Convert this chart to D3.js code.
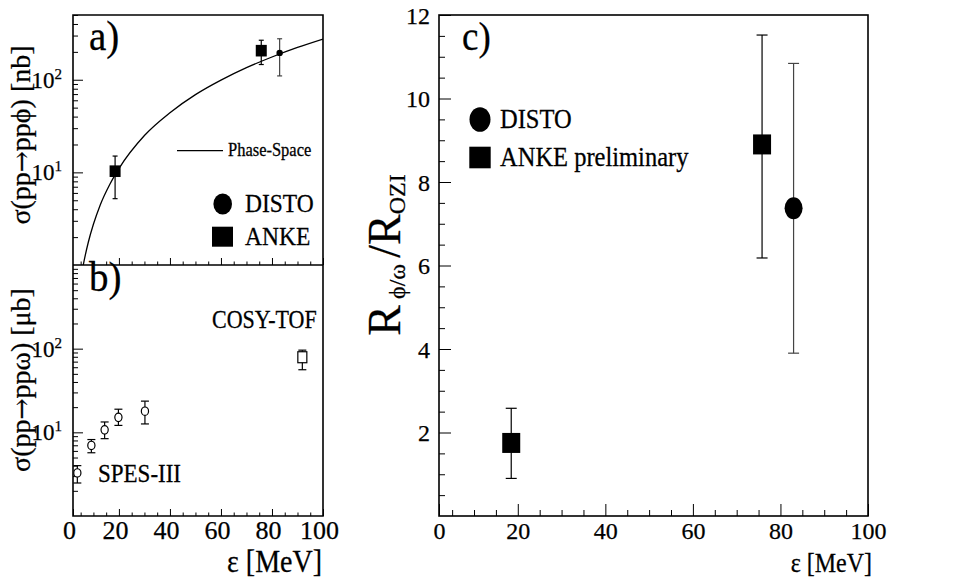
<!DOCTYPE html>
<html>
<head>
<meta charset="utf-8">
<script src="https://cdn.jsdelivr.net/npm/d3@7"></script>
<style>
  body { margin: 0; background: #fff; }
  svg { display: block; }
  svg text { stroke: #000; stroke-width: 0.25px; }
</style>
</head>
<body>
<svg id="chart" width="970" height="580"></svg>
<script>
// ---- panel a: sigma(pp -> pp phi) [nb]
const phiAnkeEps = [18.5, 75.8];
const phiAnkeSigma = [10.3, 206];
const phiAnkeHi = [15.0, 267];
const phiAnkeLo = [5.2, 146];
const phiDistoEps = [83];
const phiDistoSigma = [195];
const phiDistoHi = [277];
const phiDistoLo = [110];
// phase-space curve
const psEps = [5.5, 6, 8, 10, 12.6, 16.5, 20, 30, 40, 50, 60, 70, 80, 90, 100];
const psSigma = [0.83, 0.99, 1.76, 2.75, 4.4, 7.5, 11, 25, 44, 69, 99, 135, 176, 223, 275];

// ---- panel b: sigma(pp -> pp omega) [mub]
const spesEps = [3.7, 9.2, 14.4, 19.8, 30.2];
const spesSigma = [3.27, 6.97, 10.7, 15.1, 17.9];
const spesHi = [4.0, 8.2, 13.3, 18.9, 23.6];
const spesLo = [2.48, 5.7, 8.4, 12.1, 12.6];
const cosyEps = [91.9];
const cosySigma = [79];
const cosyHi = [96];
const cosyLo = [56];

// ---- panel c: R_phi/omega / R_OZI
const rAnkeEps = [18.5, 75.8];
const rAnke = [1.75, 8.9];
const rAnkeHi = [2.58, 11.52];
const rAnkeLo = [0.9, 6.18];
const rDistoEps = [83];
const rDisto = [7.37];
const rDistoHi = [10.84];
const rDistoLo = [3.9];

// ticks
const epsMin = 2;   // axis starts a bit right of 0, label "0" sits at the frame
const xMajor = [epsMin, 20, 40, 60, 80, 100];
const xMinor = d3.range(5, 100, 5).filter(v => v % 20 !== 0);
const logMajor = [10, 100];
const cMajor = [2, 4, 6, 8, 10, 12];
const cMinor = d3.range(0.5, 12, 0.5).filter(v => v % 2 !== 0);

const FONT = "'Liberation Serif'";
const svg = d3.select("#chart");
const fmtX = d => d === epsMin ? "0" : d;
const SY = 1.1; // text in the picture is a little taller than wide

function label(x, y, str, size, anchor) {
  return svg.append("text")
    .attr("transform", `translate(${x},${y}) scale(1,${SY})`)
    .style("font-family", FONT)
    .attr("font-size", size)
    .attr("text-anchor", anchor || "start")
    .text(str);
}

function logMinor(lo, hi) {
  const out = [];
  for (let dec = 1; dec < hi; dec *= 10)
    for (let k = 2; k <= 9; k++) if (k * dec >= lo && k * dec <= hi) out.push(k * dec);
  return out;
}

function errBars(g, xs, ys, his, los, x, y, cap, color) {
  xs.forEach((e, i) => {
    const cx = x(e);
    g.append("line").attr("x1", cx).attr("x2", cx).attr("y1", y(his[i])).attr("y2", y(los[i]))
      .attr("stroke", color).attr("stroke-width", 1.2);
    [his[i], los[i]].forEach(v => {
      g.append("line").attr("x1", cx - cap).attr("x2", cx + cap).attr("y1", y(v)).attr("y2", y(v))
        .attr("stroke", color).attr("stroke-width", 1.2);
    });
  });
}

function styleAxis(g) {
  g.select(".domain").remove();
  g.selectAll("line").attr("stroke", "#000").attr("stroke-width", 1);
  g.selectAll("text").style("font-family", FONT).attr("fill", "#000");
}

// ================= panels a and b =================
const xAB = d3.scaleLinear().domain([epsMin, 100]).range([73, 323]);
const yA = d3.scaleLog().domain([1, 500]).range([265, 15]);
const yB = d3.scaleLog().domain([1, 1000]).range([516, 265]);

// axes of a
svg.append("g").attr("transform", "translate(0,265)")
  .call(d3.axisBottom(xAB).tickValues(xMajor.slice(1)).tickSize(-7).tickFormat("")).call(styleAxis);
svg.append("g").attr("transform", "translate(0,265)")
  .call(d3.axisBottom(xAB).tickValues(xMinor).tickSize(-3.5).tickFormat("")).call(styleAxis);
svg.append("g").attr("transform", "translate(73,0)")
  .call(d3.axisLeft(yA).tickValues(logMajor).tickSize(-10).tickFormat("")).call(styleAxis);
svg.append("g").attr("transform", "translate(73,0)")
  .call(d3.axisLeft(yA).tickValues(logMinor(1, 500)).tickSize(-5).tickFormat("")).call(styleAxis);

// axes of b
const bx = svg.append("g").attr("transform", "translate(0,516)")
  .call(d3.axisBottom(xAB).tickValues(xMajor).tickSize(-7).tickPadding(4).tickFormat(fmtX)).call(styleAxis);
bx.selectAll("text").attr("font-size", 26).attr("dx", -4).attr("dy", "0.72em");
svg.append("g").attr("transform", "translate(0,516)")
  .call(d3.axisBottom(xAB).tickValues(xMinor).tickSize(-3.5).tickFormat("")).call(styleAxis);
svg.append("g").attr("transform", "translate(73,0)")
  .call(d3.axisLeft(yB).tickValues(logMajor).tickSize(-10).tickFormat("")).call(styleAxis);
svg.append("g").attr("transform", "translate(73,0)")
  .call(d3.axisLeft(yB).tickValues(logMinor(1, 1000)).tickSize(-5).tickFormat("")).call(styleAxis);

// "10^n" labels
[[yA, 1], [yA, 2], [yB, 1], [yB, 2]].forEach(([sc, p]) => {
  const t = svg.append("text").attr("x", 62).attr("y", sc(Math.pow(10, p)) + 8)
    .style("font-family", FONT).attr("font-size", 23).attr("text-anchor", "end").text("10");
  t.append("tspan").attr("font-size", 15).attr("dy", -9).text(p);
});

// frames
svg.append("path").attr("fill", "none").attr("stroke", "#000").attr("stroke-width", 1.6)
  .attr("d", `M73,15H323V516H73Z M73,265H323`);

// phase-space curve
svg.append("clipPath").attr("id", "clipA").append("rect")
  .attr("x", 73).attr("y", 15).attr("width", 250).attr("height", 250);
svg.append("path")
  .datum(psEps.map((e, i) => [e, psSigma[i]]))
  .attr("clip-path", "url(#clipA)")
  .attr("fill", "none").attr("stroke", "#000").attr("stroke-width", 1.3)
  .attr("d", d3.line().x(d => xAB(d[0])).y(d => yA(d[1])).curve(d3.curveMonotoneX));

// points in a
const gA = svg.append("g");
errBars(gA, phiAnkeEps, phiAnkeSigma, phiAnkeHi, phiAnkeLo, xAB, yA, 2.5, "#000");
errBars(gA, phiDistoEps, phiDistoSigma, phiDistoHi, phiDistoLo, xAB, yA, 2.5, "#444");
gA.selectAll(".sq").data(phiAnkeEps).enter().append("rect")
  .attr("x", (d) => xAB(d) - 5.5).attr("y", (d, i) => yA(phiAnkeSigma[i]) - 5.8)
  .attr("width", 11).attr("height", 11.6).attr("fill", "#000");
gA.selectAll(".dot").data(phiDistoEps).enter().append("circle")
  .attr("cx", d => xAB(d)).attr("cy", (d, i) => yA(phiDistoSigma[i])).attr("r", 3.2).attr("fill", "#000");

// points in b
const gB = svg.append("g");
errBars(gB, spesEps, spesSigma, spesHi, spesLo, xAB, yB, 4, "#000");
errBars(gB, cosyEps, cosySigma, cosyHi, cosyLo, xAB, yB, 4, "#000");
gB.selectAll(".oc").data(spesEps).enter().append("ellipse")
  .attr("cx", d => xAB(d)).attr("cy", (d, i) => yB(spesSigma[i])).attr("rx", 3.6).attr("ry", 4.2)
  .attr("fill", "#fff").attr("stroke", "#000").attr("stroke-width", 1.2);
gB.selectAll(".os").data(cosyEps).enter().append("rect")
  .attr("x", d => xAB(d) - 4.5).attr("y", (d, i) => yB(cosySigma[i]) - 5.5)
  .attr("width", 9).attr("height", 11)
  .attr("fill", "#fff").attr("stroke", "#000").attr("stroke-width", 1.2);

// texts a and b
label(89, 50, "a)", 39);
label(89, 291, "b)", 39);
svg.append("line").attr("x1", 177).attr("x2", 223).attr("y1", 150.7).attr("y2", 150.7)
  .attr("stroke", "#000").attr("stroke-width", 1.2);
label(228, 156, "Phase-Space", 16.5);
svg.append("ellipse").attr("cx", 222.7).attr("cy", 204).attr("rx", 9.3).attr("ry", 10.5).attr("fill", "#000");
label(245, 211.5, "DISTO", 23.5);
svg.append("rect").attr("x", 212).attr("y", 226.7).attr("width", 21).attr("height", 20).attr("fill", "#000");
label(245, 245, "ANKE", 23.5);
label(212, 328, "COSY-TOF", 22);
label(98, 481.5, "SPES-III", 23);
label(322, 572, "ε [MeV]", 28, "end");

function sigmaLabel(cy, meson, unit) {
  const t = svg.append("text").attr("transform", `translate(30,${cy}) rotate(-90)`)
    .style("font-family", FONT).attr("font-size", 28).attr("text-anchor", "middle");
  t.append("tspan").text("σ(pp");
  t.append("tspan").style("font-family", "'DejaVu Serif'").attr("font-size", 25).text("→");
  t.append("tspan").text(`pp${meson}) [${unit}]`);
}
sigmaLabel(135, "ϕ", "nb");
sigmaLabel(380, "ω", "μb");

// ================= panel c =================
const xC = d3.scaleLinear().domain([epsMin, 100]).range([439, 868]);
const yC = d3.scaleLinear().domain([0, 12]).range([516, 15]);

const cx = svg.append("g").attr("transform", "translate(0,516)")
  .call(d3.axisBottom(xC).tickValues(xMajor).tickSize(-12).tickPadding(6).tickFormat(fmtX)).call(styleAxis);
cx.selectAll("text").attr("font-size", 24).attr("dy", "0.72em");
svg.append("g").attr("transform", "translate(0,516)")
  .call(d3.axisBottom(xC).tickValues(xMinor).tickSize(-6).tickFormat("")).call(styleAxis);
const cy = svg.append("g").attr("transform", "translate(439,0)")
  .call(d3.axisLeft(yC).tickValues(cMajor).tickSize(-12).tickPadding(9)).call(styleAxis);
cy.selectAll("text").attr("font-size", 24).attr("dy", "0.34em");
svg.append("g").attr("transform", "translate(439,0)")
  .call(d3.axisLeft(yC).tickValues(cMinor).tickSize(-6).tickFormat("")).call(styleAxis);
svg.append("rect").attr("x", 439).attr("y", 15).attr("width", 429).attr("height", 501)
  .attr("fill", "none").attr("stroke", "#000").attr("stroke-width", 1.6);

const gC = svg.append("g");
errBars(gC, rAnkeEps, rAnke, rAnkeHi, rAnkeLo, xC, yC, 5.5, "#000");
errBars(gC, rDistoEps, rDisto, rDistoHi, rDistoLo, xC, yC, 5.5, "#444");
gC.selectAll(".sq").data(rAnkeEps).enter().append("rect")
  .attr("x", d => xC(d) - 9).attr("y", (d, i) => yC(rAnke[i]) - 10)
  .attr("width", 18).attr("height", 20).attr("fill", "#000");
gC.selectAll(".dot").data(rDistoEps).enter().append("ellipse")
  .attr("cx", d => xC(d)).attr("cy", (d, i) => yC(rDisto[i])).attr("rx", 9).attr("ry", 11).attr("fill", "#000");

label(462, 50, "c)", 37);
svg.append("ellipse").attr("cx", 480).attr("cy", 119.5).attr("rx", 10.5).attr("ry", 12.3).attr("fill", "#000");
label(500, 128.3, "DISTO", 24.5);
svg.append("rect").attr("x", 469.3).attr("y", 146.7).attr("width", 21.4).attr("height", 21.6).attr("fill", "#000");
label(500, 166, "ANKE preliminary", 24.5);
label(872, 572, "ε [MeV]", 24, "end");

const yl = svg.append("text").attr("transform", "translate(400,255) rotate(-90)").style("font-family", FONT)
  .attr("text-anchor", "middle").attr("font-size", 46);
yl.append("tspan").text("R");
yl.append("tspan").attr("font-size", 24).attr("dy", 5).text(" ϕ/ω ");
yl.append("tspan").attr("dy", -5).text("/R");
yl.append("tspan").attr("font-size", 24).attr("dy", 5).text("OZI");
</script>
</body>
</html>
